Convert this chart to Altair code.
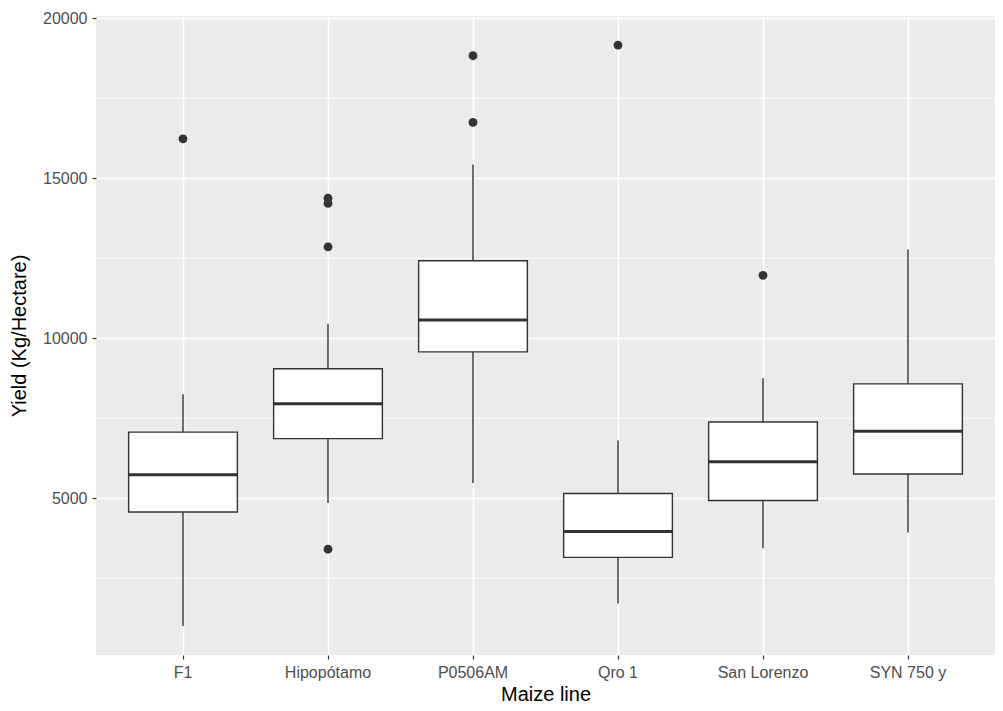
import altair as alt
import pandas as pd

# ---- data ----
lines = ["F1", "Hipopótamo", "P0506AM", "Qro 1", "San Lorenzo", "SYN 750 y"]
lower = [1006, 4854, 5474, 1709, 3433, 3929]
q1 = [4567, 6861, 9573, 3152, 4929, 5755]
median = [5734, 7950, 10570, 3960, 6136, 7096]
q3 = [7065, 9047, 12421, 5145, 7384, 8573]
upper = [8251, 10449, 15427, 6802, 8746, 12771]

outlier_line = ["F1", "Hipopótamo", "Hipopótamo", "Hipopótamo", "Hipopótamo",
                "P0506AM", "P0506AM", "Qro 1", "San Lorenzo"]
outlier_val = [16230, 14378, 14217, 12854, 3405, 18829, 16743, 19161, 11966]

major_ticks = [5000, 10000, 15000, 20000]
minor_grid = [2500, 7500, 12500, 17500]

box_df = pd.DataFrame({"line": lines, "lower": lower, "q1": q1, "median": median,
                       "q3": q3, "upper": upper})
out_df = pd.DataFrame({"line": outlier_line, "value": outlier_val})
minor_df = pd.DataFrame({"v": minor_grid})

W, H = 899, 639
INK = "#333333"

x_scale = alt.Scale(domain=lines, paddingInner=0, paddingOuter=0.1)
y_scale = alt.Scale(domain=[100, 20070], nice=False, zero=False)

x_enc = alt.X("line:N", scale=x_scale, sort=lines, title="Maize line",
              axis=alt.Axis(labelAngle=0, bandPosition=0.5, grid=True,
                            gridColor="white", gridWidth=1.6))
y_axis = alt.Axis(values=major_ticks, format="d", grid=True,
                  gridColor="white", gridWidth=1.6)

minor = alt.Chart(minor_df).mark_rule(color="white", strokeWidth=0.8).encode(
    y=alt.Y("v:Q", scale=y_scale, title="Yield (Kg/Hectare)", axis=y_axis)
)

whisk = alt.Chart(box_df).mark_rule(color=INK, strokeWidth=1.4).encode(
    x=x_enc,
    y=alt.Y("lower:Q", scale=y_scale, title="Yield (Kg/Hectare)"),
    y2="upper:Q",
)

boxes = alt.Chart(box_df).mark_bar(
    width=alt.RelativeBandSize(0.75), fill="white", stroke=INK, strokeWidth=1.4
).encode(
    x=alt.X("line:N", scale=x_scale, sort=lines),
    y=alt.Y("q1:Q", scale=y_scale),
    y2="q3:Q",
)

meds = alt.Chart(box_df).mark_tick(color=INK, opacity=1, thickness=3, size=109,
                                   orient="horizontal").encode(
    x=alt.X("line:N", scale=x_scale, sort=lines),
    y=alt.Y("median:Q", scale=y_scale),
)

outs = alt.Chart(out_df).mark_circle(color=INK, opacity=1, size=78).encode(
    x=alt.X("line:N", scale=x_scale, sort=lines),
    y=alt.Y("value:Q", scale=y_scale),
)

chart = alt.layer(minor, whisk, boxes, meds, outs).properties(
    width=W, height=H,
    autosize=alt.AutoSizeParams(type="none"),
    padding={"left": 88, "top": 8, "right": 0, "bottom": 48},
).configure_view(
    fill="#EBEBEB", strokeWidth=0
).configure_axis(
    domain=False,
    tickColor=INK, tickWidth=1.2, tickSize=4,
    labelColor="#4D4D4D", labelFontSize=16, labelFont="Liberation Sans",
    labelPadding=5,
    titleFont="Liberation Sans", titleFontSize=20, titleFontWeight="normal",
    titleColor="black",
).configure_axisY(
    titlePadding=13,
).configure_axisX(
    labelPadding=5, titlePadding=4,
)

chart.save("out.html", embed_options={"renderer": "svg", "actions": False})
